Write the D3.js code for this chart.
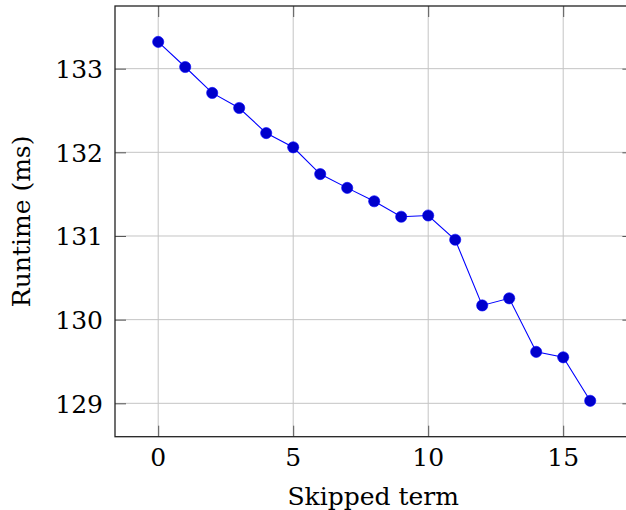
<!DOCTYPE html>
<html>
<head>
<meta charset="utf-8">
<script src="https://cdn.jsdelivr.net/npm/d3@7"></script>
<style>
  html, body { margin: 0; padding: 0; background: #fff; }
  svg { display: block; }
</style>
</head>
<body>
<svg id="chart" width="626" height="510"></svg>
<script>
// ---- data ----
const skippedTerm = [0, 1, 2, 3, 4, 5, 6, 7, 8, 9, 10, 11, 12, 13, 14, 15, 16];
const runtimeMs = [133.32, 133.02, 132.71, 132.53, 132.23, 132.06, 131.74, 131.575,
                   131.415, 131.23, 131.245, 130.955, 130.17, 130.255, 129.615, 129.55, 129.03];
const xTicks = [0, 5, 10, 15];
const yTicks = [129, 130, 131, 132, 133];
const xLabel = "Skipped term";
const yLabel = "Runtime (ms)";

(function () {
// ---- layout ----
const svg = d3.select("#chart");
const pL = 115, pR = 633.4, pT = 6, pB = 436.7;
const fontSize = 25;
const FONT = "DejaVu Serif";

// pgfplots-style 10% enlargement of limits
const xExt = d3.extent(skippedTerm), yExt = d3.extent(runtimeMs);
const xPad = (xExt[1] - xExt[0]) * 0.1, yPad = (yExt[1] - yExt[0]) * 0.1;
const x = d3.scaleLinear().domain([xExt[0] - xPad, xExt[1] + xPad]).range([pL, pR]);
const y = d3.scaleLinear().domain([yExt[0] - yPad, yExt[1] + yPad]).range([pB, pT]);

// grid
const grid = svg.append("g").attr("stroke", "#c4c4c4").attr("stroke-width", 1);
grid.selectAll(".gx").data(xTicks).join("line")
  .attr("x1", d => x(d)).attr("x2", d => x(d)).attr("y1", pT).attr("y2", pB);
grid.selectAll(".gy").data(yTicks).join("line")
  .attr("y1", d => y(d)).attr("y2", d => y(d)).attr("x1", pL).attr("x2", pR);

// tick marks on all four sides (inward) via d3 axes
const tl = 11;
svg.append("g").attr("transform", `translate(0,${pB})`)
  .call(d3.axisTop(x).tickValues(xTicks).tickSize(tl).tickFormat(""))
  .call(g => g.select(".domain").remove());
svg.append("g").attr("transform", `translate(0,${pT})`)
  .call(d3.axisBottom(x).tickValues(xTicks).tickSize(tl).tickFormat(""))
  .call(g => g.select(".domain").remove());
svg.append("g").attr("transform", `translate(${pL},0)`)
  .call(d3.axisRight(y).tickValues(yTicks).tickSize(tl).tickFormat(""))
  .call(g => g.select(".domain").remove());
svg.append("g").attr("transform", `translate(${pR},0)`)
  .call(d3.axisLeft(y).tickValues(yTicks).tickSize(tl).tickFormat(""))
  .call(g => g.select(".domain").remove());
svg.selectAll(".tick line").attr("stroke", "#555").attr("stroke-width", 1);

// tick labels
svg.append("g").selectAll("text").data(xTicks).join("text")
  .attr("x", d => x(d)).attr("y", 466)
  .attr("text-anchor", "middle").attr("font-size", fontSize)
  .attr("font-family", FONT).attr("fill", "#000")
  .text(d => d);
svg.append("g").selectAll("text").data(yTicks).join("text")
  .attr("x", 103).attr("y", d => y(d) + 9.2)
  .attr("text-anchor", "end").attr("font-size", fontSize)
  .attr("font-family", FONT).attr("fill", "#000")
  .text(d => d);

// frame
svg.append("rect")
  .attr("x", pL).attr("y", pT).attr("width", pR - pL).attr("height", pB - pT)
  .attr("fill", "none").attr("stroke", "#222").attr("stroke-width", 1.3);

// axis labels
svg.append("text").attr("x", (pL + pR) / 2 - 1).attr("y", 505)
  .attr("text-anchor", "middle").attr("font-size", fontSize)
  .attr("font-family", FONT).attr("fill", "#000").text(xLabel);
svg.append("text")
  .attr("transform", `translate(30,${(pT + pB) / 2}) rotate(-90)`)
  .attr("text-anchor", "middle").attr("font-size", fontSize)
  .attr("font-family", FONT).attr("fill", "#000").text(yLabel);

// series
const pts = skippedTerm.map((d, i) => [d, runtimeMs[i]]);
svg.append("path").datum(pts)
  .attr("fill", "none").attr("stroke", "#0000ff").attr("stroke-width", 1.1)
  .attr("d", d3.line().x(d => x(d[0])).y(d => y(d[1])));
svg.append("g").selectAll("circle").data(pts).join("circle")
  .attr("cx", d => x(d[0])).attr("cy", d => y(d[1])).attr("r", 5.6)
  .attr("fill", "#0000cc").attr("stroke", "#0000ff").attr("stroke-width", 0.6);
})();
</script>
</body>
</html>
